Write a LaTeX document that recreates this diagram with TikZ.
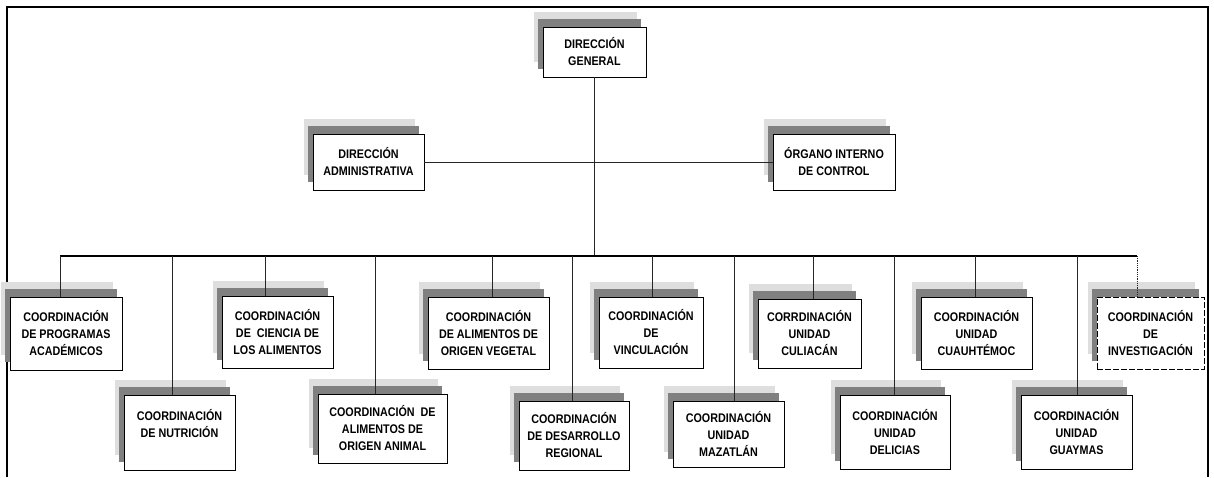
\documentclass[tikz,border=0pt]{standalone}
\usepackage{fontspec}
\newfontfamily\boxfont{Liberation Sans}[FakeStretch=0.86]
\usetikzlibrary{shadows}
\definecolor{shadelight}{HTML}{DEDEDE}
\definecolor{shadedark}{HTML}{808080}
\tikzset{
  unit/.style={draw=black, line width=0.9pt, fill=white, inner sep=0pt, align=center,
    font=\boxfont\bfseries\fontsize{12.5}{17}\selectfont,
    general shadow={fill=shadelight, draw=none, shadow xshift=-9pt, shadow yshift=15pt},
    general shadow={fill=shadedark, draw=none, shadow xshift=-5pt, shadow yshift=8pt}},
  wh/.style 2 args={minimum width=#1pt, minimum height=#2pt},
  dashedunit/.style={dash pattern=on 6pt off 2pt},
  link/.style={draw=black!85, line width=0.8pt},
  bus/.style={draw=black, line width=1.4pt},
  frame/.style={draw=black, line width=2pt}
}
\begin{document}
\begin{tikzpicture}[x=1pt, y=-1pt]
\useasboundingbox (0,0) rectangle (1214,477);
\draw[frame] (7,477) -- (7,7) -- (1208,7) -- (1208,477);

% top levels
\node[unit, wh={103}{50}] (dg) at (594.5,52) {DIRECCIÓN\\GENERAL};
\node[unit, wh={111}{56}] (da) at (368.5,162) {DIRECCIÓN\\ADMINISTRATIVA};
\node[unit, wh={122}{56}] (oic) at (834,162) {ÓRGANO INTERNO\\DE CONTROL};

% first row of coordinations
\node[unit, wh={112}{73}] (prog) at (66,333.5) {COORDINACIÓN\\DE PROGRAMAS\\ACADÉMICOS};
\node[unit, wh={111}{72}] (cien) at (277.5,332) {COORDINACIÓN\\DE\ \ CIENCIA DE\\LOS ALIMENTOS};
\node[unit, wh={121}{72}] (veg) at (488.5,333) {COORDINACIÓN\\DE ALIMENTOS DE\\ORIGEN VEGETAL};
\node[unit, wh={104}{71}] (vinc) at (651,332.5) {COORDINACIÓN\\DE\\VINCULACIÓN};
\node[unit, wh={103}{69}] (cul) at (809.5,333.5) {CORRDINACIÓN\\UNIDAD\\CULIACÁN};
\node[unit, wh={111}{72}] (cuau) at (976.5,333) {COORDINACIÓN\\UNIDAD\\CUAUHTÉMOC};
\node[unit, dashedunit, wh={107}{72}] (inv) at (1150.5,333) {COORDINACIÓN\\DE\\INVESTIGACIÓN};

% second row of coordinations
\node[unit, wh={111}{75}, text depth=18pt] (nut) at (179.5,432.5) {COORDINACIÓN\\DE NUTRICIÓN};
\node[unit, wh={129}{69}] (anim) at (382.5,428.5) {COORDINACIÓN\ \ DE\\ALIMENTOS DE\\ORIGEN ANIMAL};
\node[unit, wh={110}{69}] (des) at (574,435.5) {COORDINACIÓN\\DE DESARROLLO\\REGIONAL};
\node[unit, wh={111}{66}] (maz) at (728.5,434) {COORDINACIÓN\\UNIDAD\\MAZATLÁN};
\node[unit, wh={110}{74}] (del) at (895,432) {COORDINACIÓN\\UNIDAD\\DELICIAS};
\node[unit, wh={111}{74}] (guay) at (1076.5,432) {COORDINACIÓN\\UNIDAD\\GUAYMAS};

% drop points on the main bus
\coordinate (hub) at (594.5,256);
\coordinate (b1) at (60,256);
\coordinate (b2) at (172,256);
\coordinate (b3) at (265,256);
\coordinate (b4) at (375,256);
\coordinate (b5) at (492,256);
\coordinate (b6) at (572,256);
\coordinate (b7) at (652,256);
\coordinate (b8) at (734,256);
\coordinate (b9) at (813,256);
\coordinate (b10) at (894,256);
\coordinate (b11) at (975,256);
\coordinate (b12) at (1077,256);
\coordinate (b13) at (1137,256);

% connectors
\draw[link] (dg.south) -- (hub);
\draw[link] (da.east) -- (oic.west);
\draw[bus] (b1) -- (b13);
\draw[link] (b1) -- (b1 |- prog.north);
\draw[link] (b2) -- (b2 |- nut.north);
\draw[link] (b3) -- (b3 |- cien.north);
\draw[link] (b4) -- (b4 |- anim.north);
\draw[link] (b5) -- (b5 |- veg.north);
\draw[link] (b6) -- (b6 |- des.north);
\draw[link] (b7) -- (b7 |- vinc.north);
\draw[link] (b8) -- (b8 |- maz.north);
\draw[link] (b9) -- (b9 |- cul.north);
\draw[link] (b10) -- (b10 |- del.north);
\draw[link] (b11) -- (b11 |- cuau.north);
\draw[link] (b12) -- (b12 |- guay.north);
\draw[link, densely dotted] (b13) -- (b13 |- inv.north);
\end{tikzpicture}
\end{document}
